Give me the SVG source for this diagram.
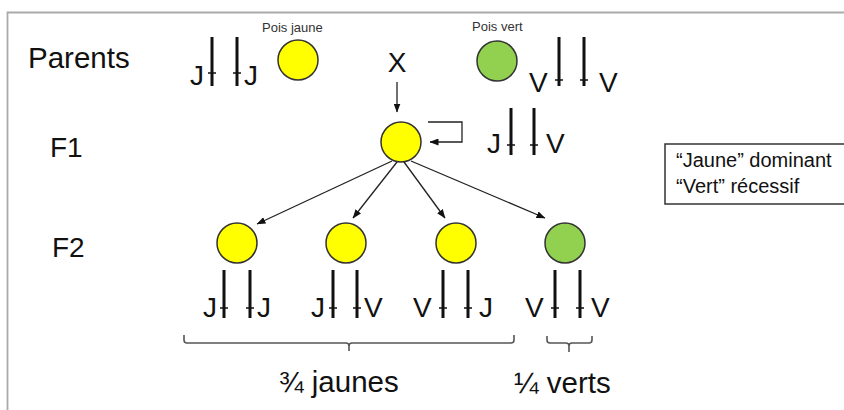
<svg xmlns="http://www.w3.org/2000/svg" width="844" height="410" viewBox="0 0 844 410">
<style>
text{font-family:"Liberation Sans",Arial,sans-serif;fill:#111}
.lbl{font-size:28px}
.g{font-size:28px}
.small{font-size:13px;fill:#333}
.leg{font-size:20px}
.bar{stroke:#111;stroke-width:3;fill:none}
.tick{stroke:#111;stroke-width:1.6;fill:none}
.pea-y{fill:#ffff00;stroke:#333;stroke-width:1.5}
.pea-g{fill:#92d050;stroke:#333;stroke-width:1.5}
.arr{stroke:#222;stroke-width:1.3;fill:none;marker-end:url(#ah)}
.brk{stroke:#555;stroke-width:1.6;fill:none}
</style>
<defs>
<marker id="ah" markerWidth="9" markerHeight="7" refX="8.5" refY="3.5" orient="auto" markerUnits="userSpaceOnUse">
<path d="M0,0 L9,3.5 L0,7 Z" fill="#111"/>
</marker>
</defs>
<rect width="844" height="410" fill="#fff"/>
<g id="frame"><path d="M7.5,410 V12.5 H844" stroke="#aaa" stroke-width="1.8" fill="none"/></g>

<g id="labels">
<text class="lbl" x="28" y="68" style="font-size:29.5px">Parents</text>
<text class="lbl" x="50" y="157">F1</text>
<text class="lbl" x="52" y="257">F2</text>
</g>

<g id="parent-jaune">
<text class="small" x="262" y="32">Pois jaune</text>
<circle class="pea-y" cx="298" cy="60" r="20"/>
<text class="g" x="190" y="85">J</text>
<path class="bar" d="M212,37 V86 M237,37 V86"/>
<path class="tick" d="M208,73 H216 M233,73 H241"/>
<text class="g" x="244" y="85">J</text>
</g>

<g id="cross"><text class="lbl" x="397" y="72" text-anchor="middle">X</text></g>

<g id="parent-vert">
<text class="small" x="472" y="31">Pois vert</text>
<circle class="pea-g" cx="497" cy="61" r="20"/>
<text class="g" x="529" y="92">V</text>
<path class="bar" d="M559,37 V86 M584,37 V86"/>
<path class="tick" d="M555,80 H563 M580,80 H588"/>
<text class="g" x="599" y="92">V</text>
</g>

<g id="f1">
<circle class="pea-y" cx="401" cy="142" r="20"/>
<text class="g" x="487" y="153">J</text>
<path class="bar" d="M511,108 V155 M534,108 V155"/>
<path class="tick" d="M507,145 H515 M530,145 H538"/>
<text class="g" x="546" y="153">V</text>
</g>

<g id="legend">
<rect x="665" y="144" width="180" height="60" fill="#fff" stroke="#333" stroke-width="1.5"/>
<text class="leg" x="676" y="167">“Jaune” dominant</text>
<text class="leg" x="676" y="193">“Vert” récessif</text>
</g>

<g id="f2-1">
<circle class="pea-y" cx="237" cy="243" r="20"/>
<text class="g" x="203" y="317">J</text>
<path class="bar" d="M224,270 V318 M250,270 V318"/>
<path class="tick" d="M220,308 H228 M246,308 H254"/>
<text class="g" x="257" y="317">J</text>
</g>
<g id="f2-2">
<circle class="pea-y" cx="346" cy="243" r="20"/>
<text class="g" x="311" y="317">J</text>
<path class="bar" d="M333,270 V318 M357,270 V318"/>
<path class="tick" d="M329,308 H337 M353,308 H361"/>
<text class="g" x="364" y="317">V</text>
</g>
<g id="f2-3">
<circle class="pea-y" cx="456" cy="243" r="20"/>
<text class="g" x="413" y="317">V</text>
<path class="bar" d="M443,270 V318 M468,270 V318"/>
<path class="tick" d="M439,308 H447 M464,308 H472"/>
<text class="g" x="479" y="317">J</text>
</g>
<g id="f2-4">
<circle class="pea-g" cx="565" cy="243" r="20"/>
<text class="g" x="525" y="317">V</text>
<path class="bar" d="M555,270 V318 M580,270 V318"/>
<path class="tick" d="M551,308 H559 M576,308 H584"/>
<text class="g" x="591" y="317">V</text>
</g>

<g id="brackets">
<path class="brk" d="M184,335 V340 Q184,343 187,343 H346 Q349,343 349,346 V351 M349,346 Q349,343 352,343 H511 Q514,343 514,340 V335"/>
<path class="brk" d="M547,336 V340 Q547,343 550,343 H566 Q569,343 569,346 V352 M569,346 Q569,343 572,343 H589 Q592,343 592,340 V336"/>
<text class="lbl" x="279" y="392" style="font-size:29.5px">¾ jaunes</text>
<text class="lbl" x="514" y="393" style="font-size:29.5px">¼ verts</text>
</g>

<g id="connectors">
<line class="arr" x1="397" y1="82" x2="397" y2="112"/>
<path class="arr" d="M428,122 H462 V142 H430"/>
<line class="arr" x1="392" y1="161" x2="257" y2="224"/>
<line class="arr" x1="397" y1="162" x2="353" y2="218"/>
<line class="arr" x1="404" y1="162" x2="445" y2="218"/>
<line class="arr" x1="411" y1="161" x2="545" y2="218"/>
</g>
</svg>
